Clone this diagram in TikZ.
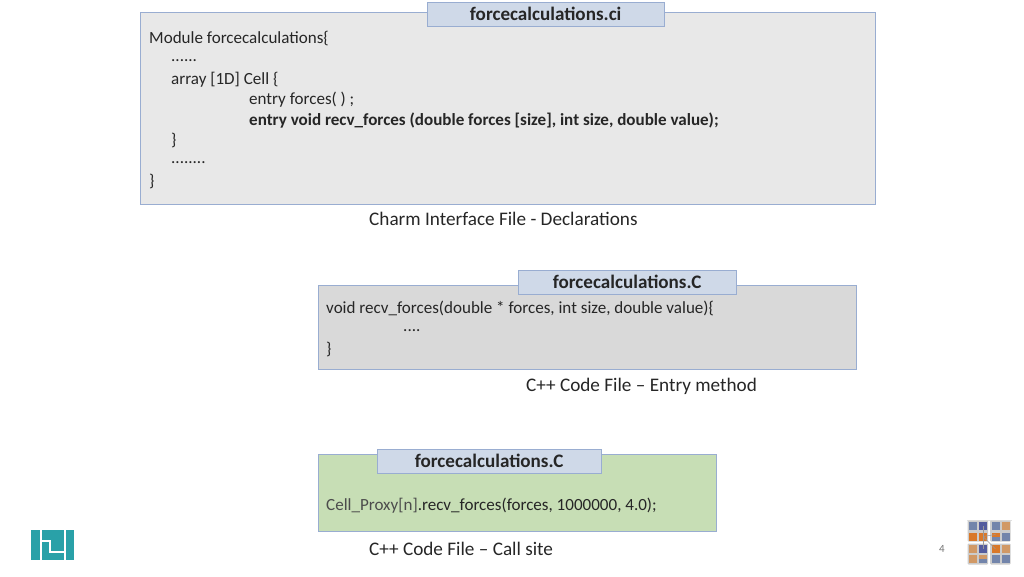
\documentclass[tikz,border=0pt]{standalone}
\usepackage{fontspec}
\setmainfont{Carlito}
\definecolor{boxgray}{rgb}{0.91,0.91,0.91}
\definecolor{boxdark}{rgb}{0.85,0.85,0.85}
\definecolor{boxgreen}{rgb}{0.78,0.87,0.71}
\definecolor{tabblue}{rgb}{0.81,0.85,0.91}
\definecolor{boxline}{rgb}{0.60,0.68,0.82}
\definecolor{logoteal}{rgb}{0.16,0.63,0.66}
\definecolor{iconblue}{rgb}{0.45,0.52,0.67}
\definecolor{icondeep}{rgb}{0.33,0.36,0.62}
\definecolor{icontan}{rgb}{0.82,0.60,0.40}
\definecolor{iconorange}{rgb}{0.85,0.47,0.16}
\definecolor{iconback}{rgb}{0.80,0.80,0.80}
\tikzstyle{codebox}=[rectangle, draw=boxline, anchor=north west, inner sep=0pt]
\tikzstyle{filetab}=[rectangle, draw=boxline, fill=tabblue, anchor=north west, inner sep=0pt, font=\fontsize{19.1}{22}\selectfont\bfseries, text=black!85]
\tikzstyle{codeline}=[anchor=west, inner sep=0pt, font=\fontsize{17.05}{20}\selectfont, text=black!85]
\tikzstyle{filecap}=[anchor=west, inner sep=0pt, font=\fontsize{19.2}{22}\selectfont, text=black!85]
\newcommand{\codebox}[6]{
	\node[codebox, fill=#4, minimum width=#5pt, minimum height=#6pt] (#1) at (#2,#3) {};}
\newcommand{\filetab}[5]{
	\node[filetab, minimum width=#4pt, minimum height=24pt] (#1) at (#2,#3) {\raisebox{-1pt}{#5}};}
\newcommand{\codeline}[4]{
	\node[codeline] (#1) at (#2,#3) {#4};}
\newcommand{\filecap}[4]{
	\node[filecap] (#1) at (#2,#3) {#4};}
\newcommand{\tile}[3]{
	\fill[#3] (#1,#2) rectangle ++(8,8);}
\newcommand{\tileback}[2]{
	\fill[iconback, rounded corners=1pt] (#1,#2) rectangle ++(20.5,21);}

\begin{document}
\begin{tikzpicture}[x=1pt,y=-1pt]
	\useasboundingbox (0,0) rectangle (1024,576);

	\codebox{ciblock}{140}{12}{boxgray}{735}{192}
	\filetab{citab}{427}{2}{237}{forcecalculations.ci}
	\codeline{modline}{149}{38}{Module forcecalculations\{}
	\codeline{dotsa}{171}{61}{......}
	\codeline{arrayline}{171}{79.5}{array [1D] Cell \{}
	\codeline{entryline}{249}{100}{entry forces( ) ;}
	\codeline{recvline}{249}{121}{\bfseries entry void recv\_forces (double forces [size], int size, double value);}
	\codeline{closea}{171}{140.5}{\}}
	\codeline{dotsb}{171}{163}{........}
	\codeline{closeb}{149}{181}{\}}
	\filecap{cicap}{369}{219}{Charm Interface File - Declarations}

	\codebox{cblock}{318}{285}{boxdark}{538}{84}
	\filetab{ctab}{518}{270}{218}{forcecalculations.C}
	\codeline{voidline}{326}{308}{void recv\_forces(double * forces, int size, double value)\{}
	\codeline{dotsc}{403}{331}{....}
	\codeline{closec}{326}{349}{\}}
	\filecap{ccap}{526}{386}{C++ Code File – Entry method}

	\codebox{siteblock}{318}{454}{boxgreen}{398}{77}
	\filetab{sitetab}{377}{449}{224}{forcecalculations.C}
	\codeline{callline}{326}{506}{\textcolor{black!70}{Cell\_Proxy[n]}.recv\_forces(forces, 1000000, 4.0);}
	\filecap{sitecap}{369}{549}{C++ Code File – Call site}

	% page number
	\node[anchor=center, inner sep=0pt, font=\fontsize{11}{13}\selectfont, text=black!55] (pagenum) at (942,549) {4};

	% logo
	\fill[logoteal] (30.5,529.5) rectangle (39.5,560);
	\fill[logoteal] (42,529.5) rectangle (63.5,560);
	\fill[logoteal] (65.5,529.5) rectangle (74,560);
	\draw[white, line width=2pt] (42,541) -- (50,541) -- (50,552) -- (63.5,552);

	% corner icon
	\fill[black!12] (967,519.5) rectangle (1012,520.3);
	\tileback{967.5}{520.5}
	\tileback{990}{520.5}
	\tileback{967.5}{543.5}
	\tileback{990}{543.5}
	\tile{969}{522}{iconblue}
	\tile{979}{522}{icondeep}
	\tile{991.5}{522}{iconblue}
	\tile{1001.5}{522}{icontan}
	\tile{969}{532.5}{iconorange}
	\tile{979}{532.5}{iconorange}
	\tile{991.5}{532.5}{iconorange}
	\tile{1001.5}{532.5}{iconblue}
	\tile{969}{545}{icontan}
	\tile{979}{545}{icondeep}
	\tile{991.5}{545}{iconorange}
	\tile{1001.5}{545}{icontan}
	\tile{969}{555}{icontan}
	\tile{979}{555}{icontan}
	\fill[iconblue] (979,559) rectangle ++(8,4);
	\tile{991.5}{555}{iconblue}
	\tile{1001.5}{555}{iconblue}
	\fill[iconblue] (991.5,536.5) rectangle ++(8,4);
	\draw[black!40, line width=0.5pt] (983,536.5) -- (983,526);
	\draw[black!40, line width=0.5pt] (983,536.5) -- (983,549);
	\draw[black!40, line width=0.5pt] (983,536.5) -- (995.5,534.5);
	\draw[black!40, line width=0.5pt] (983,536.5) -- (995.5,549);
\end{tikzpicture}
\end{document}
